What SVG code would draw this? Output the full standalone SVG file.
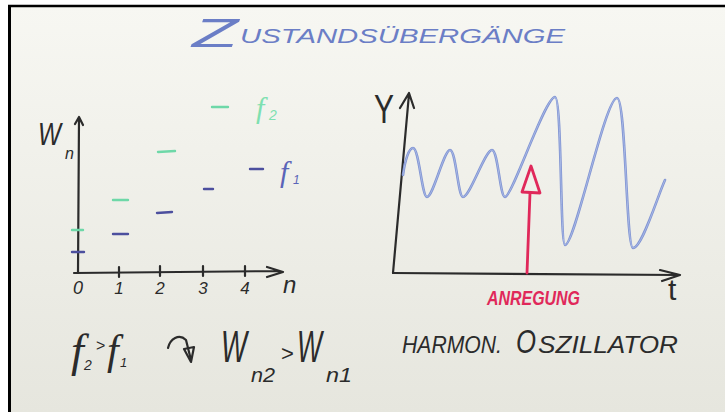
<svg xmlns="http://www.w3.org/2000/svg" width="725" height="412" viewBox="0 0 725 412">
<defs>
<linearGradient id="bg" x1="0" y1="0" x2="0" y2="1">
<stop offset="0" stop-color="#f7f7f2"/>
<stop offset="1" stop-color="#e6e6de"/>
</linearGradient>
<style>
.ink{stroke:#2b2b2b;stroke-width:2.2;fill:none;stroke-linecap:round;stroke-linejoin:round}
.txt{font-family:"Liberation Sans","DejaVu Sans",sans-serif;font-style:italic;fill:#2b2b2b}
.ser{font-family:"Liberation Serif","DejaVu Serif",serif;font-style:italic;fill:#2b2b2b}
.grn{stroke:#6ed8a8;stroke-width:2.4;stroke-linecap:round;fill:none}
.blu{stroke:#4c4f9e;stroke-width:2.4;stroke-linecap:round;fill:none}
.red{stroke:#e0285a;stroke-width:2.8;fill:none;stroke-linecap:round;stroke-linejoin:round}
</style>
</defs>
<rect width="725" height="412" fill="#ffffff"/>
<rect x="9" y="6" width="716" height="406" fill="url(#bg)"/>
<line x1="9.5" y1="5" x2="9.5" y2="412" stroke="#000" stroke-width="3"/>
<line x1="8" y1="6" x2="725" y2="6" stroke="#000" stroke-width="2.5"/>

<g id="title">
<text x="192" y="47" class="txt" style="fill:#6b7ec6;font-size:40px" textLength="46" lengthAdjust="spacingAndGlyphs">Z</text>
<text x="240" y="43" class="txt" style="fill:#6b7ec6;font-size:20px" textLength="325" lengthAdjust="spacingAndGlyphs">USTANDSÜBERGÄNGE</text>
</g>

<g id="energy-plot">
<path class="ink" d="M78,273 L79,118 M75,124 L79,117 L83,125"/>
<path class="ink" d="M74,273 L280,271 M267,267 L283,272 L267,277"/>
<path class="ink" d="M119,267 V277 M160,266 V276 M203,266 V276 M245,266 V276"/>
<text x="78" y="294" class="txt" style="font-size:18px" text-anchor="middle">0</text>
<text x="119" y="294" class="txt" style="font-size:17px" text-anchor="middle">1</text>
<text x="160" y="294" class="txt" style="font-size:17px" text-anchor="middle">2</text>
<text x="203" y="294" class="txt" style="font-size:17px" text-anchor="middle">3</text>
<text x="245" y="294" class="txt" style="font-size:17px" text-anchor="middle">4</text>
<text x="283" y="293" class="txt" style="font-size:24px">n</text>
<text x="38" y="145" class="txt" style="font-size:32px" textLength="23" lengthAdjust="spacingAndGlyphs">W</text>
<text x="65" y="159" class="txt" style="font-size:16px">n</text>
<path class="grn" d="M72,230 H83 M113,200 H128 M158,152 L175,151 M212,107 H228"/>
<path class="blu" d="M72,252 H84 M113,234 H128 M157,213 L172,212 M204,189 H213 M250,169 H263"/>
<text x="256" y="118" class="ser" style="fill:#7ee0b0;font-size:30px">f</text>
<text x="269" y="120" class="txt" style="fill:#7ee0b0;font-size:14px">2</text>
<text x="280" y="182" class="ser" style="fill:#5a64b8;font-size:30px">f</text>
<text x="293" y="184" class="txt" style="fill:#5a64b8;font-size:12px">1</text>
</g>

<g id="oscillator-plot">
<path class="ink" d="M393,273 L409,94 M400,108 L409,93 L414,108"/>
<path class="ink" d="M393,273 L679,275 M660,270 L680,275 L662,281"/>
<text x="374" y="123" class="txt" style="font-size:40px;font-style:normal" textLength="20" lengthAdjust="spacingAndGlyphs">Y</text>
<text x="668" y="300" class="txt" style="font-size:30px;font-style:normal">t</text>
<path d="M403,175 C405,160 409,148 413,148 C419,148 422,197 427,197 C433,197 444,150 450,150 C456,150 458,197 463,197 C470,197 485,150 492,150 C498,150 500,197 505,197 C512,197 545,97 555,97 C562,97 560,245 565,245 C575,245 605,98 617,98 C626,98 626,248 633,248 C642,248 658,195 665,180" fill="none" stroke="#8194d2" stroke-width="2.6" stroke-linecap="round"/>
<path d="M403,175 C405,160 409,148 413,148 C419,148 422,197 427,197 C433,197 444,150 450,150 C456,150 458,197 463,197 C470,197 485,150 492,150 C498,150 500,197 505,197 C512,197 545,97 555,97 C562,97 560,245 565,245 C575,245 605,98 617,98 C626,98 626,248 633,248 C642,248 658,195 665,180" fill="none" stroke="#aabbe8" stroke-width="0.9" stroke-linecap="round"/>
<path class="red" d="M527,273 L530,193"/>
<path class="red" d="M522,192 L531,166 L540,193 Z"/>
<text x="487" y="305" class="txt" style="fill:#e0285a;font-size:20px;font-weight:bold" textLength="93" lengthAdjust="spacingAndGlyphs">ANREGUNG</text>
</g>

<g id="formula">
<text x="71" y="366" class="ser" style="font-size:46px">f</text>
<text x="84" y="370" class="txt" style="font-size:14px">2</text>
<text x="96" y="351" class="txt" style="font-size:16px;font-style:normal">&gt;</text>
<text x="107" y="364" class="ser" style="font-size:42px">f</text>
<text x="120" y="367" class="txt" style="font-size:13px">1</text>
<path class="ink" d="M168,348 C170,339 179,333 186,340 L191,360"/>
<path class="ink" d="M184,349 L194,347 L191,362 Z"/>
<text x="221" y="362" class="txt" style="font-size:44px" textLength="26" lengthAdjust="spacingAndGlyphs">W</text>
<text x="251" y="382" class="txt" style="font-size:20px" textLength="24" lengthAdjust="spacingAndGlyphs">n2</text>
<text x="281" y="361" class="txt" style="font-size:22px;font-style:normal">&gt;</text>
<text x="297" y="362" class="txt" style="font-size:44px" textLength="25" lengthAdjust="spacingAndGlyphs">W</text>
<text x="326" y="382" class="txt" style="font-size:20px" textLength="26" lengthAdjust="spacingAndGlyphs">n1</text>
</g>

<g id="oscillator-label">
<text x="402" y="353" class="txt" style="font-size:24px" textLength="100" lengthAdjust="spacingAndGlyphs">HARMON.</text>
<text x="516" y="353" class="txt" style="font-size:34px" textLength="20" lengthAdjust="spacingAndGlyphs">O</text>
<text x="538" y="353" class="txt" style="font-size:24px" textLength="140" lengthAdjust="spacingAndGlyphs">SZILLATOR</text>
</g>
</svg>
